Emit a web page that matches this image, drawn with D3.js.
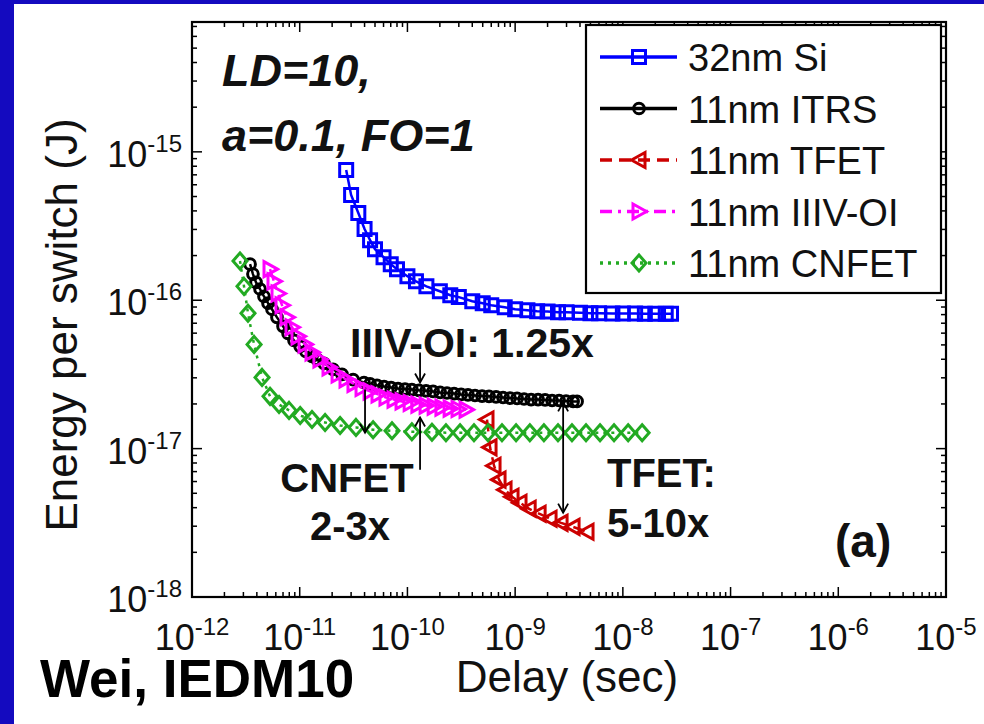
<!DOCTYPE html>
<html>
<head>
<meta charset="utf-8">
<script src="https://cdn.jsdelivr.net/npm/d3@7"></script>
<style>
  body { margin: 0; background: #fff; }
  svg text { font-family: "Liberation Sans", Arial, Helvetica, sans-serif; }
</style>
</head>
<body>
<svg id="chart" width="984" height="724"></svg>
<script>
// delays in ps, energies in aJ (1e-18 J)
const si32Delay  = [27, 30, 35, 40, 45, 50, 60, 70, 80, 100, 120, 150, 200, 250, 300, 400, 500, 600, 800, 1000, 1300, 1600, 2000, 2500, 3000, 4000, 5000, 6000, 8000, 10000, 13000, 16000, 20000, 25000, 28000];
const si32Energy = [755, 512, 387, 302, 254, 221, 195, 175, 162, 145, 134, 124, 115, 108, 105, 98.4, 95.5, 92.5, 89.7, 86.9, 85.5, 84.3, 84, 83, 83, 82.5, 81.7, 81.7, 81.5, 81.5, 81.5, 81, 81, 81, 81];

const itrsDelay  = [3.46, 3.68, 3.93, 4.28, 4.66, 5.08, 5.53, 6.15, 7.0, 7.79, 8.85, 10.1, 11.4, 13.0, 14.5, 16.8, 20.4, 24.7, 31.3, 39.5, 45.0,
  52.2, 60.7, 70.5, 81.8, 95.0, 110, 128, 149, 173, 201, 233, 271, 315, 365, 424, 493, 572, 665, 772, 897, 1042, 1210, 1406, 1633, 1897, 2203, 2559, 2972, 3451, 3758];
const itrsEnergy = [175, 150, 132, 119, 106, 95.5, 86.9, 76.7, 66.7, 59.8, 53.7, 48.9, 45.2, 41.9, 39.9, 37.5, 34.2, 31.6, 29.2, 27.9, 27.3,
  26.7, 26.2, 25.8, 25.4, 25.2, 25.0, 24.7, 24.5, 24.3, 23.9, 23.7, 23.5, 23.2, 23.0, 22.8, 22.6, 22.5, 22.3, 22.1, 21.9, 21.8, 21.6, 21.4, 21.4, 21.3, 21.1, 21.1, 20.9, 20.8, 20.8];

const tfetDelay  = [548, 585, 637, 709, 806, 936, 1110, 1350, 1670, 2110, 2670, 3450, 4650];
const tfetEnergy = [15.7, 10.2, 7.67, 6.18, 5.28, 4.74, 4.32, 3.93, 3.64, 3.37, 3.16, 2.97, 2.75];

const iiivDelay  = [5.30, 5.77, 6.29, 6.85, 7.62, 8.48, 9.64, 11.2, 13.0, 15.4, 18.7, 22.7, 26.9, 31.9, 37.9, 45.0, 53.3, 63.2, 75.1, 89.1, 106, 125, 149, 177, 209, 249, 295, 350];
const iiivEnergy = [162, 134, 111, 92.5, 76.7, 65.7, 57.1, 50.4, 44.5, 39.9, 35.3, 31.6, 29.3, 27.3, 25.6, 24.3, 23.2, 22.1, 21.4, 20.8, 20.3, 19.8, 19.5, 19.2, 18.9, 18.6, 18.5, 18.3];

const cnfetDelay  = [2.79, 3.04, 3.31, 3.77, 4.47, 5.30, 6.43, 7.96, 10.1, 13.0, 17.2, 23.7, 33.3, 48.0, 71.9, 110, 169, 228, 308, 415, 560, 755, 1020, 1370, 1850, 2500, 3370, 4550, 6140, 8280, 11200, 15100];
const cnfetEnergy = [184, 124, 81.7, 50.4, 30.2, 22.5, 19.8, 18.1, 16.7, 15.7, 15.0, 14.3, 13.9, 13.4, 13.2, 13.0, 12.9, 12.8, 12.8, 12.8, 12.8, 12.8, 12.8, 12.8, 12.8, 12.8, 12.8, 12.8, 12.8, 12.8, 12.8, 12.8];

const seriesNames = ["32nm Si", "11nm ITRS", "11nm TFET", "11nm IIIV-OI", "11nm CNFET"];
const xTickExps = [-12, -11, -10, -9, -8, -7, -6, -5];
const yTickExps = [-18, -17, -16, -15];

const series = [
  { name: seriesNames[0], delay: si32Delay, energy: si32Energy, color: "#0000ff", dash: null, marker: "square" },
  { name: seriesNames[1], delay: itrsDelay, energy: itrsEnergy, color: "#000000", dash: null, marker: "circle" },
  { name: seriesNames[2], delay: tfetDelay, energy: tfetEnergy, color: "#cc0000", dash: "12,7", marker: "left" },
  { name: seriesNames[3], delay: iiivDelay, energy: iiivEnergy, color: "#ff00ff", dash: "12,6,3,6", marker: "right" },
  { name: seriesNames[4], delay: cnfetDelay, energy: cnfetEnergy, color: "#22aa22", dash: "3,5", marker: "diamond" }
];

const svg = d3.select("#chart");
svg.append("rect").attr("width", 984).attr("height", 724).attr("fill", "#fff");
// blue slide frame
svg.append("rect").attr("x", 0).attr("y", 0).attr("width", 984).attr("height", 4).attr("fill", "#140abf");
svg.append("rect").attr("x", 0).attr("y", 0).attr("width", 14).attr("height", 724).attr("fill", "#140abf");

const pLeft = 192, pRight = 946, pTop = 22, pBottom = 597;
const x = d3.scaleLog().domain([1e-12, 1e-5]).range([pLeft, pRight]);
const y = d3.scaleLog().domain([1e-18, 7.5e-15]).range([pBottom, pTop]);

// ticks (major long, minor short), drawn inward on all four sides
const majorX = xTickExps.map(e => Math.pow(10, e));
const majorY = yTickExps.map(e => Math.pow(10, e));
const isMajor = (v, list) => list.some(m => Math.abs(m - v) / m < 1e-6);
const xTicks = x.ticks().map(v => ({ v, len: isMajor(v, majorX) ? 10 : 5 }));
const yTicks = y.ticks().map(v => ({ v, len: isMajor(v, majorY) ? 10 : 5 }));

const tickG = svg.append("g").attr("stroke", "#000").attr("stroke-width", 1.5);
tickG.selectAll("line.xb").data(xTicks).enter().append("line")
  .attr("x1", d => x(d.v)).attr("x2", d => x(d.v)).attr("y1", pBottom).attr("y2", d => pBottom - d.len);
tickG.selectAll("line.xt").data(xTicks).enter().append("line")
  .attr("x1", d => x(d.v)).attr("x2", d => x(d.v)).attr("y1", pTop).attr("y2", d => pTop + d.len);
tickG.selectAll("line.yl").data(yTicks).enter().append("line")
  .attr("y1", d => y(d.v)).attr("y2", d => y(d.v)).attr("x1", pLeft).attr("x2", d => pLeft + d.len);
tickG.selectAll("line.yr").data(yTicks).enter().append("line")
  .attr("y1", d => y(d.v)).attr("y2", d => y(d.v)).attr("x1", pRight).attr("x2", d => pRight - d.len);

svg.append("rect").attr("x", pLeft).attr("y", pTop).attr("width", pRight - pLeft).attr("height", pBottom - pTop)
  .attr("fill", "none").attr("stroke", "#000").attr("stroke-width", 2.2);

// tick labels
function expLabel(t, e) {
  t.append("tspan").text("10");
  t.append("tspan").attr("dy", -15).attr("font-size", 24).text(e);
}
xTickExps.forEach(e => {
  const t = svg.append("text").attr("x", x(Math.pow(10, e))).attr("y", 650)
    .attr("text-anchor", "middle").attr("font-size", 36).attr("fill", "#111");
  expLabel(t, e);
});
yTickExps.forEach(e => {
  const t = svg.append("text").attr("x", 182).attr("y", y(Math.pow(10, e)) + 15)
    .attr("text-anchor", "end").attr("font-size", 36).attr("fill", "#111");
  expLabel(t, e);
});

// axis titles
svg.append("text").attr("x", 567).attr("y", 692).attr("text-anchor", "middle")
  .attr("font-size", 44).attr("fill", "#111").text("Delay (sec)");
svg.append("text").attr("transform", "translate(77,325) rotate(-90)").attr("text-anchor", "middle")
  .attr("font-size", 44).attr("fill", "#111").text("Energy per switch (J)");

// markers
function markerPath(type) {
  switch (type) {
    case "square": return "M-6.5,-6.5H6.5V6.5H-6.5Z";
    case "circle": return d3.symbol(d3.symbolCircle, 90)();
    case "left": return "M-7.5,0L6,-7.5L6,7.5Z";
    case "right": return "M7.5,0L-6,-7.5L-6,7.5Z";
    case "diamond": return "M0,-8L7,0L0,8L-7,0Z";
  }
}

const line = d3.line().x(d => x(d[0])).y(d => y(d[1]));
series.forEach(s => {
  const pts = s.delay.map((d, i) => [d * 1e-12, s.energy[i] * 1e-18]);
  const g = svg.append("g");
  g.append("path").datum(pts).attr("d", line).attr("fill", "none")
    .attr("stroke", s.color).attr("stroke-width", 2.5).attr("stroke-dasharray", s.dash);
  g.selectAll("path.mk").data(pts).enter().append("path").attr("class", "mk")
    .attr("transform", d => `translate(${x(d[0])},${y(d[1])})`)
    .attr("d", markerPath(s.marker)).attr("fill", "none")
    .attr("stroke", s.color).attr("stroke-width", 3);
});

// legend
const lg = svg.append("g");
lg.append("rect").attr("x", 586).attr("y", 25).attr("width", 355).attr("height", 268)
  .attr("fill", "#fff").attr("stroke", "#000").attr("stroke-width", 2.2);
series.forEach((s, i) => {
  const ly = 57 + i * 51.5;
  lg.append("line").attr("x1", 600).attr("x2", 677).attr("y1", ly).attr("y2", ly)
    .attr("stroke", s.color).attr("stroke-width", 3.5).attr("stroke-dasharray", s.dash);
  lg.append("path").attr("transform", `translate(639,${ly})`).attr("d", markerPath(s.marker))
    .attr("fill", "none").attr("stroke", s.color).attr("stroke-width", 3);
  lg.append("text").attr("x", 688).attr("y", ly + 14).attr("font-size", 38).attr("fill", "#111").text(s.name);
});

// annotations
svg.append("defs").append("marker").attr("id", "head").attr("viewBox", "-10 -6 12 12")
  .attr("markerWidth", 12).attr("markerHeight", 12).attr("markerUnits", "userSpaceOnUse")
  .attr("orient", "auto-start-reverse").attr("refX", 0).attr("refY", 0)
  .append("path").attr("d", "M-9,-5L0,0L-9,5").attr("fill", "none").attr("stroke", "#000").attr("stroke-width", 1.8);

const arrowDelay = [131e-12, 40.4e-12, 131e-12, 2790e-12];
const arrowFrom  = [44.5e-18, 25.0e-18, 7.2e-18, 20.5e-18];
const arrowTo    = [27.9e-18, 12.8e-18, 16.2e-18, 3.7e-18];
const arrowBoth  = [false, false, false, true];
arrowDelay.forEach((d, i) => {
  const a = svg.append("line").attr("x1", x(d)).attr("x2", x(d))
    .attr("y1", y(arrowFrom[i])).attr("y2", y(arrowTo[i]))
    .attr("stroke", "#000").attr("stroke-width", 1.8).attr("marker-end", "url(#head)");
  if (arrowBoth[i]) a.attr("marker-start", "url(#head)");
});

const bold = (tx, ty, str, size, anchor) => svg.append("text").attr("x", tx).attr("y", ty)
  .attr("font-size", size).attr("font-weight", "bold").attr("fill", "#111")
  .attr("text-anchor", anchor || "start").text(str);

bold(222, 86, "LD=10,", 45).attr("font-style", "italic");
bold(222, 151, "a=0.1, FO=1", 45).attr("font-style", "italic");
bold(350, 357, "IIIV-OI: 1.25x", 41);
bold(347, 492, "CNFET", 40, "middle");
bold(350, 540, "2-3x", 40, "middle");
bold(607, 487, "TFET:", 40);
bold(607, 537, "5-10x", 40);
bold(835, 557, "(a)", 46);
bold(40, 697, "Wei, IEDM10", 53).attr("fill", "#000");
</script>
</body>
</html>
